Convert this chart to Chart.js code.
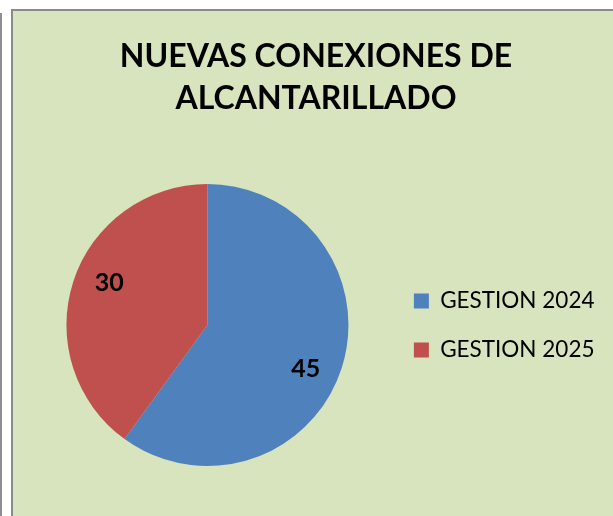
<!DOCTYPE html>
<html>
<head>
<meta charset="utf-8">
<script src="https://cdn.jsdelivr.net/npm/chart.js@4.4.1/dist/chart.umd.min.js"></script>
<style>
  html, body { margin: 0; padding: 0; background: #ffffff; width: 613px; height: 516px; overflow: hidden; }
  #strip { position: absolute; left: 0px; top: 13px; width: 2px; height: 520px; background: #8f8f8f; }
  #box { position: absolute; left: 11px; top: 9px; width: 700px; height: 600px; background: #D7E4BD; border: 2px solid #8a8a8a; box-sizing: border-box; }
  #wrap { position: absolute; left: 0; top: 0; width: 613px; height: 516px; }
</style>
</head>
<body>
<div id="strip"></div>
<div id="box"></div>
<div id="wrap"><canvas id="c" width="613" height="516"></canvas></div>
<script>
const titleLines = ["NUEVAS CONEXIONES DE", "ALCANTARILLADO"];
const categories = ["GESTION 2024", "GESTION 2025"];
const values = [45, 30];
const colors = ["#4F81BD", "#C0504D"];

const labelPlugin = {
  id: 'sliceLabels',
  afterDatasetsDraw(chart) {
    const ctx = chart.ctx;
    const meta = chart.getDatasetMeta(0);
    const rot = 5.5 * Math.PI / 180;
    ctx.save();
    ctx.font = 'bold 25px Lato';
    ctx.fillStyle = '#000';
    ctx.textAlign = 'center';
    ctx.textBaseline = 'middle';
    meta.data.forEach((arc, i) => {
      const p = arc.getProps(['x', 'y', 'startAngle', 'endAngle', 'outerRadius'], true);
      const a = (p.startAngle + p.endAngle) / 2 + rot;
      const r = p.outerRadius * 0.76;
      ctx.fillText(String(values[i]), p.x + Math.cos(a) * r, p.y + Math.sin(a) * r + 1);
    });
    ctx.restore();
  }
};

new Chart(document.getElementById('c'), {
  type: 'pie',
  data: {
    labels: categories,
    datasets: [{ data: values, backgroundColor: colors, borderWidth: 0 }]
  },
  options: {
    responsive: false,
    animation: false,
    layout: { padding: { left: 27.5, right: 8.5, top: 0, bottom: 50 } },
    plugins: {
      tooltip: { enabled: false },
      title: {
        display: true,
        text: titleLines,
        color: '#000',
        font: { family: 'Lato', size: 32, weight: 'bold', lineHeight: '42px' },
        padding: { top: 36, bottom: 64 }
      },
      legend: {
        position: 'right',
        title: {
          display: true,
          text: '',
          font: { size: 1 },
          padding: { top: 184, bottom: 0 }
        },
        labels: {
          color: '#000',
          font: { family: 'Lato', size: 22.5 },
          boxWidth: 15,
          boxHeight: 15,
          padding: 26.5
        }
      }
    }
  },
  plugins: [labelPlugin]
});
</script>
</body>
</html>
